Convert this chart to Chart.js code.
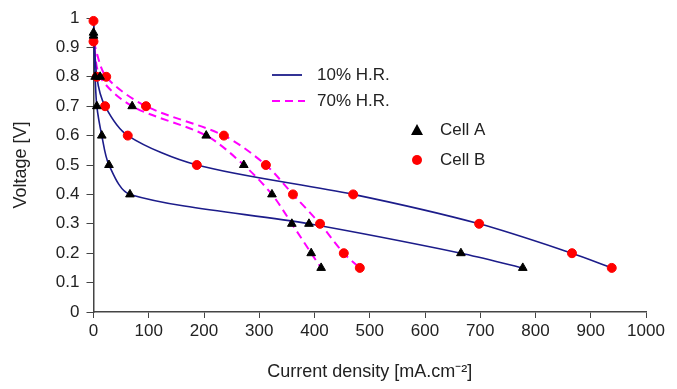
<!DOCTYPE html>
<html>
<head>
<meta charset="utf-8">
<script src="https://cdn.jsdelivr.net/npm/chart.js@4.4.1/dist/chart.umd.min.js"></script>
<style>
  html, body { margin: 0; padding: 0; background: #fff; }
  #wrap { width: 677px; height: 389px; position: relative; }
</style>
</head>
<body>
<div id="wrap"><canvas id="myChart" width="677" height="389"></canvas></div>
<script>
// voltage levels (same for every curve)
const voltages = [0.8, 0.7, 0.6, 0.5, 0.4, 0.3, 0.2, 0.15];

// current density [mA/cm2] at each voltage level
const cellA10 = [3, 6, 15, 28, 66, 390, 665, 777];
const cellA70 = [12, 70, 204, 272, 323, 359, 394, 412];
const cellB10 = [6, 21, 62, 187, 470, 698, 866, 938];
const cellB70 = [23, 95, 236, 312, 361, 410, 453, 482];

// open circuit voltages (at 0 mA/cm2)
const ocvA10 = 0.95, ocvA70 = 0.94, ocvB10 = 0.99, ocvB70 = 0.92;

const xTicks = [0, 100, 200, 300, 400, 500, 600, 700, 800, 900, 1000];

function toPoints(ocv, currents) {
    const pts = [{x: 0, y: ocv}];
    currents.forEach((c, i) => pts.push({x: c, y: voltages[i]}));
    return pts;
}

const navy = '#1c1c8a';
const magenta = '#ff00ff';
const font = '"Liberation Sans", Arial, sans-serif';

function curve(points, color, dash) {
    return {
        type: 'line',
        data: points,
        borderColor: color,
        borderWidth: dash ? 2 : 1.6,
        borderDash: dash ? [8, 5] : [],
        pointRadius: 0,
        fill: false,
        tension: 0.3,
        clip: false,
        order: 2
    };
}

function markers(points, style, color, r) {
    return {
        type: 'scatter',
        data: points,
        pointStyle: style,
        pointRadius: r,
        pointBackgroundColor: color,
        pointBorderColor: color,
        showLine: false,
        clip: false,
        order: 1
    };
}

const ptsA10 = toPoints(ocvA10, cellA10);
const ptsA70 = toPoints(ocvA70, cellA70);
const ptsB10 = toPoints(ocvB10, cellB10);
const ptsB70 = toPoints(ocvB70, cellB70);

// legends drawn by hand to match the placement in the figure
const customLegend = {
    id: 'customLegend',
    afterDraw(chart) {
        const c = chart.ctx;
        c.save();
        c.font = '17px ' + font;
        c.fillStyle = '#222';
        c.textBaseline = 'middle';

        c.strokeStyle = navy;
        c.lineWidth = 1.8;
        c.beginPath(); c.moveTo(272, 75); c.lineTo(302, 75); c.stroke();
        c.fillText('10% H.R.', 317, 75);

        c.strokeStyle = magenta;
        c.lineWidth = 2;
        c.setLineDash([8, 5]);
        c.beginPath(); c.moveTo(272, 101); c.lineTo(305, 101); c.stroke();
        c.setLineDash([]);
        c.fillText('70% H.R.', 317, 101);

        c.fillStyle = '#000';
        c.beginPath();
        c.moveTo(417, 124); c.lineTo(423, 135); c.lineTo(411, 135); c.closePath();
        c.fill();
        c.fillStyle = '#ff0000';
        c.beginPath(); c.arc(417, 160, 5, 0, Math.PI * 2); c.fill();

        c.fillStyle = '#222';
        c.fillText('Cell A', 440, 130);
        c.fillText('Cell B', 440, 160);
        c.restore();
    }
};

const ctx = document.getElementById('myChart').getContext('2d');
const myChart = new Chart(ctx, {
    data: {
        datasets: [
            curve(ptsA10, navy, false),
            curve(ptsB10, navy, false),
            curve(ptsA70, magenta, true),
            curve(ptsB70, magenta, true),
            markers(ptsA10.concat(ptsA70), 'triangle', '#000', 5),
            markers(ptsB10.concat(ptsB70), 'circle', '#ff0000', 4.5)
        ]
    },
    options: {
        responsive: false,
        animation: false,
        layout: { padding: { left: 0, right: 31, top: 18, bottom: 0 } },
        plugins: {
            legend: { display: false },
            tooltip: { enabled: false }
        },
        scales: {
            x: {
                type: 'linear',
                position: 'bottom',
                min: 0,
                max: 1000,
                afterBuildTicks: scale => { scale.ticks = xTicks.map(v => ({value: v})); },
                afterFit: scale => { scale.height = 77; },
                ticks: {
                    color: '#222',
                    padding: 3,
                    maxRotation: 0,
                    font: { family: font, size: 17 },
                    callback: v => String(v)
                },
                grid: { drawOnChartArea: false, drawTicks: true, tickLength: 6, color: '#444' },
                border: { display: true, color: '#444', width: 1.5 },
                title: {
                    display: true,
                    text: 'Current density [mA.cm\u207B\u00B2]',
                    color: '#222',
                    padding: { top: 4, bottom: 6 },
                    font: { family: font, size: 18 }
                }
            },
            y: {
                type: 'linear',
                min: 0,
                max: 1,
                afterFit: scale => { scale.width = 93.5; },
                ticks: {
                    stepSize: 0.1,
                    color: '#222',
                    padding: 7,
                    font: { family: font, size: 17 },
                    callback: v => String(parseFloat(v.toFixed(1)))
                },
                grid: { drawOnChartArea: false, drawTicks: true, tickLength: 7, color: '#444' },
                border: { display: true, color: '#444', width: 1.5 },
                title: {
                    display: true,
                    text: 'Voltage [V]',
                    color: '#222',
                    padding: { top: 10, bottom: 0 },
                    font: { family: font, size: 18 }
                }
            }
        }
    },
    plugins: [customLegend]
});
</script>
</body>
</html>
